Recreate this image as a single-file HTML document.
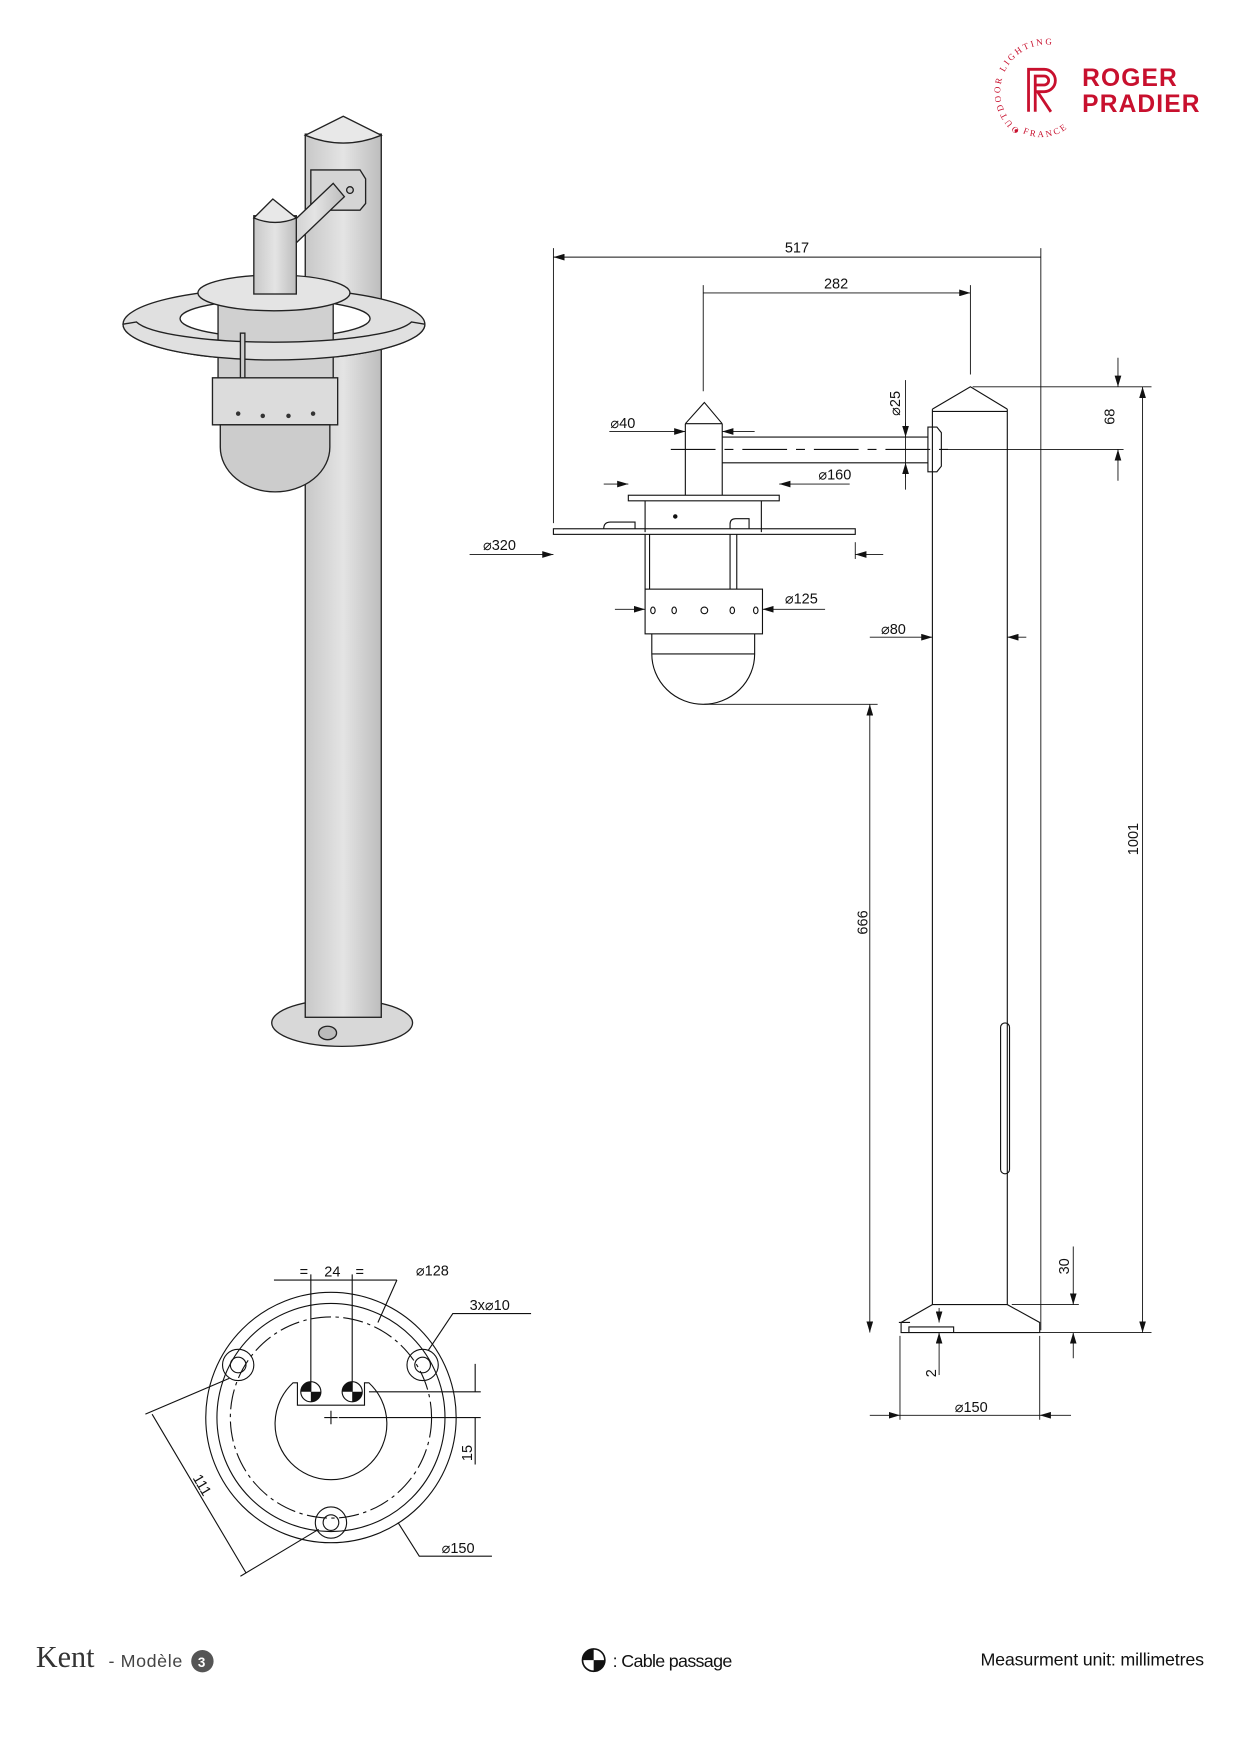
<!DOCTYPE html>
<html><head><meta charset="utf-8"><style>
html,body{margin:0;padding:0;background:#fff;width:1241px;height:1754px;overflow:hidden}
svg{display:block}
text{font-family:"Liberation Sans",sans-serif;fill:#111}
</style></head><body>
<svg width="1241" height="1754" viewBox="0 0 1110 1569" xmlns="http://www.w3.org/2000/svg">
<defs>
<linearGradient id="pg" x1="0" x2="1"><stop offset="0" stop-color="#c8c8c8"/><stop offset=".5" stop-color="#e4e4e4"/><stop offset="1" stop-color="#bdbdbd"/></linearGradient>
<marker id="a" viewBox="0 0 10 6" refX="10" refY="3" markerWidth="10" markerHeight="6" orient="auto-start-reverse" markerUnits="userSpaceOnUse"><path d="M0,0L10,3L0,6z" fill="#111"/></marker>
<path id="arc1" d="M912,116 A38,38 0 1 1 962,48"/>
<path id="arc2" d="M905,112 A38,38 0 0 0 967,98"/>
</defs>

<!-- Logo -->
<text x="968" y="77" style="font-weight:bold;font-size:22px;fill:#c8102e;letter-spacing:1px">ROGER</text>
<text x="968" y="100" style="font-weight:bold;font-size:22px;fill:#c8102e;letter-spacing:1px">PRADIER</text>
<text style="font-family:'Liberation Serif',serif;font-size:8px;fill:#c8102e;letter-spacing:2px"><textPath href="#arc1">OUTDOOR LIGHTING</textPath></text>
<text style="font-family:'Liberation Serif',serif;font-size:8px;fill:#c8102e;letter-spacing:2px"><textPath href="#arc2" startOffset="12">FRANCE</textPath></text>
<circle cx="909" cy="117" r="1.5" fill="#c8102e"/>
<path d="M920,100V62h14a10,10 0 0 1 0,20h-6l12,18M926,100V68h8a4,4 0 0 1 0,8h-8" fill="none" stroke="#c8102e" stroke-width="2.5"/>

<!-- 3D render -->
<g stroke="#222" stroke-width="1.2">
<ellipse cx="306" cy="915" rx="63" ry="21" fill="#d8d8d8"/>
<rect x="273" y="120" width="68" height="790" fill="url(#pg)"/>
<path d="M273,121 Q307,135 341,121 L307,104z" fill="#e8e8e8"/>
<ellipse cx="293" cy="924" rx="8" ry="6" fill="#bbb"/>
<path d="M278,152h44l5,8v22l-5,6h-44z" fill="#d5d5d5"/>
<circle cx="313" cy="170" r="3" fill="#ccc"/>
<path d="M255,205 L298,164 L308,176 L262,220z" fill="url(#pg)"/>
<ellipse cx="245" cy="290" rx="135" ry="32" fill="#e0e0e0"/>
<ellipse cx="246" cy="285" rx="85" ry="17" fill="#fff"/>
<rect x="195" y="270" width="103" height="75" fill="#d0d0d0"/>
<ellipse cx="245" cy="262" rx="68" ry="16" fill="#e4e4e4"/>
<rect x="227" y="193" width="38" height="70" fill="url(#pg)"/>
<path d="M227,195 Q246,203 265,195 L244,178z" fill="#e8e8e8"/>
<path d="M110,290 A135,32 0 0 0 380,290 L368,288 A125,22 0 0 1 122,288z" fill="#e0e0e0"/>
<rect x="215" y="298" width="4" height="60" fill="#ccc"/>
<path d="M190,338h112v42h-112z" fill="#dcdcdc"/>
<path d="M197,380h98v20a49,40 0 0 1 -98,0z" fill="#ccc"/>
</g>
<g fill="#333"><circle cx="213" cy="370" r="2"/><circle cx="235" cy="372" r="2"/><circle cx="258" cy="372" r="2"/><circle cx="280" cy="370" r="2"/></g>

<!-- technical drawing -->
<g fill="none" stroke="#111" stroke-width="1">
<path d="M834,366V1167M901,366V1167M834,366L868,346L901,366M834,368H901"/>
<path d="M834,1167L806,1183V1192H930V1183L901,1167z"/>
<path d="M804,1183h10M813,1192v-5h40v5"/>
<rect x="895" y="915" width="8" height="135" rx="4"/>
<path d="M646,391H830M646,414H830"/>
<path d="M830,382h8l4,5v30l-4,5h-8z"/>
<path d="M600,402H848" stroke-dasharray="40 8 8 8"/>
<path d="M613,379V443M646,379V443M613,379L630,360L646,379M613,379H646"/>
<rect x="562" y="443" width="135" height="5"/>
<path d="M577,448V476M681,448V476"/>
<rect x="495" y="473" width="270" height="5"/>
<path d="M540,473q0,-6 6,-6h22v6M653,473v-4q0,-5 5,-5h12v9"/>
<path d="M577,478V527M581,478V527M653,478V527M659,478V527"/>
<rect x="577" y="527" width="105" height="40"/>
<path d="M583,567V585M675,567V585M583,585H675M583,585a46,45 0 0 0 92,0"/>
</g>
<g fill="#111"><circle cx="604" cy="462" r="2"/></g>
<g fill="none" stroke="#111"><ellipse cx="584" cy="546" rx="2" ry="3"/><ellipse cx="603" cy="546" rx="2" ry="3"/><ellipse cx="630" cy="546" rx="3" ry="3"/><ellipse cx="655" cy="546" rx="2" ry="3"/><ellipse cx="676" cy="546" rx="2" ry="3"/></g>

<!-- dimensions -->
<g stroke="#111" stroke-width=".8" fill="none">
<path d="M495,222V468M931,222V1190M868,255V335M629,255V350"/>
<path d="M495,230H931M629,262H868" marker-start="url(#a)" marker-end="url(#a)"/>
<path d="M545,386H613" marker-end="url(#a)"/><path d="M675,386H646" marker-end="url(#a)"/>
<path d="M540,433H562" marker-end="url(#a)"/><path d="M760,433H697" marker-end="url(#a)"/>
<path d="M420,496H495" marker-end="url(#a)"/><path d="M790,496H765" marker-end="url(#a)"/><path d="M765,485V500"/>
<path d="M550,545H577" marker-end="url(#a)"/><path d="M738,545H682" marker-end="url(#a)"/>
<path d="M778,570H834" marker-end="url(#a)"/><path d="M918,570H901" marker-end="url(#a)"/>
<path d="M810,378V391" marker-end="url(#a)"/><path d="M810,427V414" marker-end="url(#a)"/><path d="M810,340V438"/>
<path d="M870,346H1030M840,402H1005M630,630H785M905,1167H965M930,1192H1030"/>
<path d="M1000,320V346" marker-end="url(#a)"/><path d="M1000,430V402" marker-end="url(#a)"/>
<path d="M1022,346V1192" marker-start="url(#a)" marker-end="url(#a)"/>
<path d="M778,630V1192" marker-start="url(#a)" marker-end="url(#a)"/>
<path d="M960,1115V1167" marker-end="url(#a)"/><path d="M960,1215V1192" marker-end="url(#a)"/>
<path d="M840,1230V1192" marker-end="url(#a)"/><path d="M840,1170V1183" marker-end="url(#a)"/>
<path d="M805,1195V1270M930,1195V1270"/>
<path d="M778,1266H805" marker-end="url(#a)"/><path d="M958,1266H930" marker-end="url(#a)"/><path d="M805,1266H930"/>
</g>
<g style="font-size:13px">
<text x="702" y="226">517</text><text x="737" y="258">282</text>
<text x="546" y="383">⌀40</text><text x="732" y="429">⌀160</text>
<text x="432" y="492">⌀320</text><text x="702" y="540">⌀125</text><text x="788" y="567">⌀80</text>
<text x="854" y="1263">⌀150</text>
<text transform="translate(805,372) rotate(-90)">⌀25</text>
<text transform="translate(997,380) rotate(-90)">68</text>
<text transform="translate(1018,765) rotate(-90)">1001</text>
<text transform="translate(776,836) rotate(-90)">666</text>
<text transform="translate(956,1140) rotate(-90)">30</text>
<text transform="translate(837,1232) rotate(-90)">2</text>
</g>

<!-- base plan -->
<g fill="none" stroke="#111" stroke-width="1">
<circle cx="296" cy="1268" r="112"/>
<circle cx="296" cy="1268" r="102"/>
<circle cx="296" cy="1268" r="90" stroke-dasharray="18 4 3 4"/>
<circle cx="213" cy="1221" r="14"/><circle cx="213" cy="1221" r="7"/>
<circle cx="378" cy="1221" r="14"/><circle cx="378" cy="1221" r="7"/>
<circle cx="296" cy="1362" r="14"/><circle cx="296" cy="1362" r="7"/>
<path d="M262,1237A50,50 0 1 0 330,1237h-4v20H266v-20z"/>
<path d="M290,1268h12M296,1262v12"/>
<path d="M278,1140V1245M315,1140V1245M245,1145H355"/>
<path d="M303,1268H430M330,1245H430M425,1220V1245M425,1268V1310"/>
<path d="M355,1145L338,1183M475,1175H405L383,1208M440,1392H375L356,1362"/>
<path d="M136,1265L220,1407M130,1265L205,1233M215,1410L285,1368"/>
</g>
<g fill="#111">
<path d="M278,1245m-9,0a9,9 0 0 1 9,-9v9z M278,1245h9a9,9 0 0 1 -9,9z"/>
<path d="M315,1245m-9,0a9,9 0 0 1 9,-9v9z M315,1245h9a9,9 0 0 1 -9,9z"/>
</g>
<circle cx="278" cy="1245" r="9" fill="none" stroke="#111"/><circle cx="315" cy="1245" r="9" fill="none" stroke="#111"/>
<g style="font-size:13px">
<text x="290" y="1142">24</text><text x="268" y="1142">=</text><text x="318" y="1142">=</text>
<text x="372" y="1141">⌀128</text><text x="420" y="1172">3x⌀10</text><text x="395" y="1389">⌀150</text>
<text transform="translate(422,1307) rotate(-90)">15</text>
<text transform="translate(172,1322) rotate(60)">111</text>
</g>

<!-- footer -->
<text x="32" y="1491" style="font-family:'Liberation Serif',serif;font-size:27px;fill:#333">Kent</text>
<text x="97" y="1491" style="font-size:16px;fill:#444" textLength="66">-  Modèle</text>
<circle cx="181" cy="1486" r="10" fill="#555"/>
<text x="177" y="1491" style="font-size:12px;font-weight:bold;fill:#fff">3</text>
<circle cx="531" cy="1485" r="10" fill="none" stroke="#111" stroke-width="1.5"/>
<path d="M531,1485v-10a10,10 0 0 0 -10,10zM531,1485h10a10,10 0 0 1 -10,10z" fill="#111"/>
<text x="548" y="1491" style="font-size:16px" textLength="107">: Cable passage</text>
<text x="877" y="1490" style="font-size:16px" textLength="200">Measurment unit: millimetres</text>
</svg>
</body></html>
